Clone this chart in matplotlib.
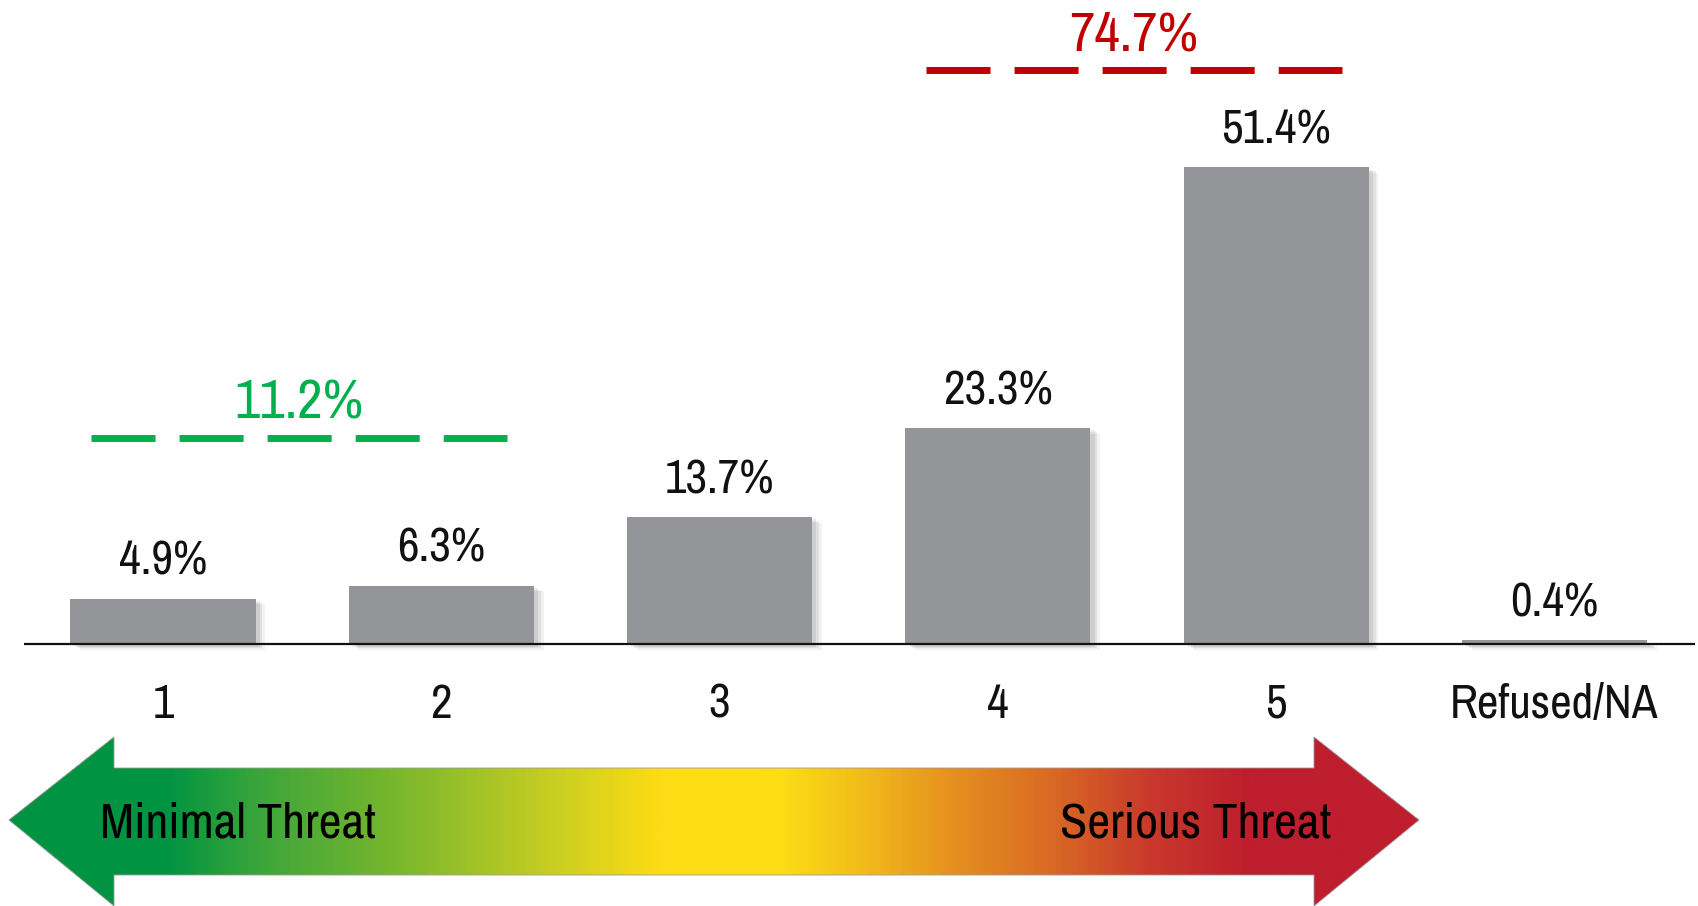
import matplotlib
matplotlib.use('Agg')
import matplotlib.pyplot as plt
import matplotlib.patheffects as pe
from matplotlib.colors import LinearSegmentedColormap
from matplotlib.path import Path
from matplotlib.patches import PathPatch
import numpy as np

plt.rcParams['font.family'] = ['Archivo Narrow', 'Roboto Condensed', 'DejaVu Sans']
plt.rcParams['lines.scale_dashes'] = False

categories = ['1', '2', '3', '4', '5', 'Refused/NA']
values = [4.9, 6.3, 13.7, 23.3, 51.4, 0.4]
group_labels = ['11.2%', '74.7%']
group_members = [(0, 1), (3, 4)]
group_levels = [22.2, 61.9]
group_colors = ['#00b04f', '#c00000']
bar_color = '#939598'

W, H = 1698, 906
fig = plt.figure(figsize=(W / 100, H / 100), dpi=100)

# main axes: pixel-aligned data scale
ax = fig.add_axes([0, 0, 1, 1])
px_per_cat = 278.3
px_per_pct = 9.28
x0_px = 163
base_px = H - 644
ax.set_xlim(-x0_px / px_per_cat, (W - x0_px) / px_per_cat)
ax.set_ylim(-base_px / px_per_pct, (H - base_px) / px_per_pct)
ax.axis('off')

x = np.arange(len(categories))
shadow = [pe.SimplePatchShadow(offset=(d, -d * 0.6), shadow_rgbFace='#000000', alpha=a)
          for d, a in [(7, 0.05), (5, 0.07), (3, 0.08)]]
bars = ax.bar(x, values, width=0.665, color=bar_color, zorder=3)
for b in bars:
    b.set_path_effects(shadow + [pe.Normal()])

for xi, v in zip(x, values):
    ax.annotate(f'{v}%', (xi, v), xytext=(0, 17), textcoords='offset points',
                ha='center', va='baseline', fontsize=34, color='#111111')

ax.plot([-0.5, len(categories) - 0.5 + 0.005], [0, 0], color='#111111', lw=1.6, zorder=4,
        solid_capstyle='butt')

for xi, c in zip(x, categories):
    ax.annotate(c, (xi, 0), xytext=(0, -53), textcoords='offset points',
                ha='center', va='baseline', fontsize=34, color='#111111')

# group dashed lines with totals
for (a, b), lvl, lab, col in zip(group_members, group_levels, group_labels, group_colors):
    left = x[a] - 0.259
    right = x[b] + 0.236
    ax.plot([left, right], [lvl, lvl], color=col, lw=5.0, dashes=(46.1, 17.3),
            dash_capstyle='butt')
    ax.annotate(lab, ((left + right) / 2, lvl), xytext=(0, 14), textcoords='offset points',
                ha='center', va='baseline', fontsize=40, color=col)

# gradient threat arrow (pixel coordinates)
oax = fig.add_axes([0, 0, 1, 1], zorder=-1)
oax.set_xlim(0, W)
oax.set_ylim(H, 0)
oax.axis('off')
stops = [(0.0, '#009442'), (0.11, '#009442'), (0.18, '#3ea63a'), (0.28, '#7db82c'),
         (0.38, '#c5cd22'), (0.46, '#fcdc15'), (0.55, '#fcdc15'), (0.60, '#f3c01a'),
         (0.67, '#e5901f'), (0.74, '#d96a24'), (0.81, '#c9392c'), (0.88, '#be1e2d'),
         (1.0, '#be1e2d')]
cmap = LinearSegmentedColormap.from_list('threat', stops)
ax_l, ax_r = 9, 1419
verts = [(9, 820), (114, 737), (114, 768), (1314, 768), (1314, 737), (1419, 820),
         (1314, 906), (1314, 875), (114, 875), (114, 906), (9, 820)]
path = Path(verts, [Path.MOVETO] + [Path.LINETO] * 9 + [Path.CLOSEPOLY])
patch = PathPatch(path, facecolor='none', edgecolor='#9a9a9a', lw=0.6)
oax.add_patch(patch)
grad = np.linspace(0, 1, 512).reshape(1, -1)
im = oax.imshow(grad, cmap=cmap, extent=(ax_l, ax_r, 906, 730), aspect='auto')
im.set_clip_path(patch)
oax.text(100, 837, 'Minimal Threat', fontsize=36, color='#000000', va='baseline', ha='left')
oax.text(1331, 837, 'Serious Threat', fontsize=36, color='#000000', va='baseline', ha='right')

plt.savefig('out.png', dpi=100)
